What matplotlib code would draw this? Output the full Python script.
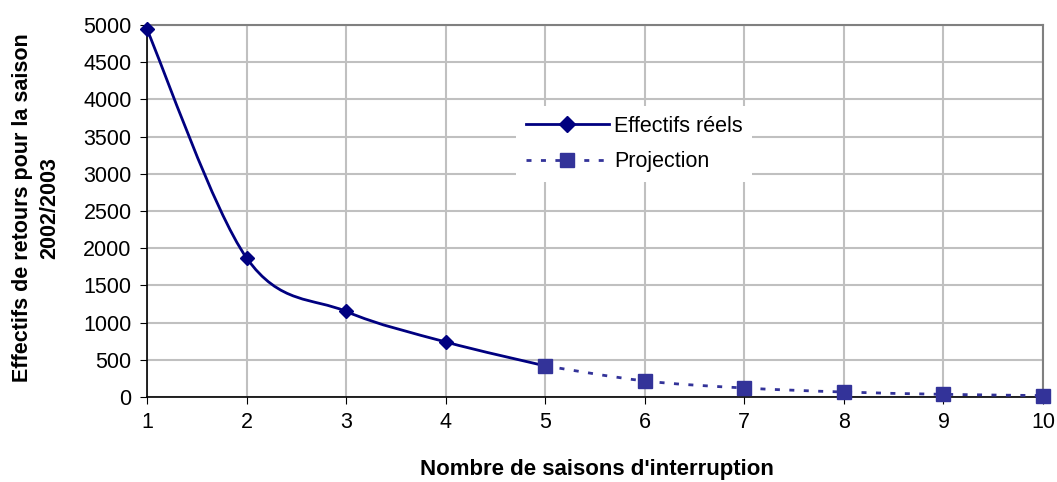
import numpy as np
import matplotlib
matplotlib.use("Agg")
import matplotlib.pyplot as plt
from matplotlib.path import Path
from matplotlib.patches import PathPatch

plt.rcParams['font.family'] = ['Liberation Sans', 'DejaVu Sans']

x_reels = [1, 2, 3, 4, 5]
y_reels = [4940, 1870, 1150, 740, 418]
x_proj = [5, 6, 7, 8, 9, 10]
y_proj = [418, 216, 121, 67, 36, 19]
xticks = [1, 2, 3, 4, 5, 6, 7, 8, 9, 10]
yticks = [0, 500, 1000, 1500, 2000, 2500, 3000, 3500, 4000, 4500, 5000]


def smooth_path(xs, ys):
    p = np.column_stack([xs, ys]).astype(float)
    n = len(p)
    verts = [p[0]]
    codes = [Path.MOVETO]
    for i in range(n - 1):
        p0 = p[i - 1] if i > 0 else p[i]
        p1 = p[i]
        p2 = p[i + 1]
        p3 = p[i + 2] if i + 2 < n else p[i + 1]
        c1 = p1 + (p2 - p0) / 6.0
        c2 = p2 - (p3 - p1) / 6.0
        verts += [c1, c2, p2]
        codes += [Path.CURVE4] * 3
    return Path(verts, codes)


W, H = 1057, 482
fig = plt.figure(figsize=(W / 100, H / 100), dpi=100)
ax = fig.add_axes([147 / W, (H - 397) / H, 896 / W, 372 / H])

navy = '#000080'
proj_c = '#333399'
FS = 15.5

ax.add_patch(PathPatch(smooth_path(x_reels, y_reels), fill=False,
                       edgecolor=navy, lw=2, zorder=3))
ax.add_patch(PathPatch(smooth_path(x_proj, y_proj), fill=False,
                       edgecolor=proj_c, lw=2, linestyle=(0, (1.8, 3.4)),
                       zorder=3))

ax.plot(x_reels[:-1], y_reels[:-1], linestyle='none', marker='D', ms=7.5,
        color=navy, zorder=4, clip_on=False)
ax.plot(x_proj, y_proj, linestyle='none', marker='s', ms=9.5,
        color=proj_c, zorder=5, clip_on=False)

# legend proxies
h1, = ax.plot([], [], color=navy, lw=2, marker='D', ms=8)
h2, = ax.plot([], [], color=proj_c, lw=2, ls=(0, (1.8, 3.4)), marker='s', ms=9.5)
leg = ax.legend([h1, h2], ['Effectifs réels', 'Projection'],
                loc='upper left', bbox_to_anchor=(516 / W, 1 - 106 / H),
                bbox_transform=fig.transFigure, borderaxespad=0,
                frameon=True, fancybox=False, framealpha=1,
                edgecolor='white', fontsize=FS, handlelength=3.85,
                handletextpad=0.25, borderpad=0.45, labelspacing=0.68)
leg.get_frame().set_linewidth(0)
leg.set_zorder(6)

ax.set_xlim(1, 10)
ax.set_ylim(0, 5000)
ax.set_xticks(xticks)
ax.set_yticks(yticks)
ax.tick_params(labelsize=FS, direction='out', length=5, color='black', pad=6)
ax.grid(True, color='#c0c0c0', lw=1.5)
ax.set_axisbelow(True)
for s in ['top', 'right']:
    ax.spines[s].set_color('#808080')
    ax.spines[s].set_linewidth(1.5)
for s in ['left', 'bottom']:
    ax.spines[s].set_color('black')
    ax.spines[s].set_linewidth(1.2)

fig.text(597 / W, 1 - 470 / H, "Nombre de saisons d'interruption",
         fontsize=16, fontweight='bold', ha='center', va='center')
fig.text(36 / W, 1 - 208 / H, "Effectifs de retours pour la saison\n2002/2003",
         fontsize=FS, fontweight='bold', ha='center', va='center',
         rotation=90, linespacing=1.4, multialignment='center')

fig.savefig('out.png', dpi=100)
